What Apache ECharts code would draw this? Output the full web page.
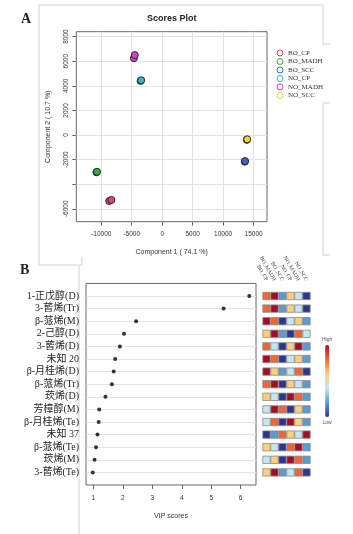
<!DOCTYPE html>
<html>
<head>
<meta charset="utf-8">
<title>Scores Plot / VIP scores</title>
<script src="https://cdn.jsdelivr.net/npm/echarts@6/dist/echarts.min.js"></script>
<style>
html, body { margin: 0; padding: 0; background: #fff; }
#main { width: 353px; height: 534px; }
</style>
</head>
<body>
<div id="main"></div>
<script>
// ---- panel A : PCA scores ----
var groups = ['BO_CP', 'BO_MADH', 'BO_SCC', 'NO_CP', 'NO_MADH', 'NO_SCC'];
var groupColors = ['#e8426e', '#3daa48', '#3f62c8', '#35b6c6', '#d43fd6', '#f0d628'];
var BO_CP = [[-8700, -5370], [-8350, -5280]];
var BO_MADH = [[-10800, -3030], [-10700, -2990]];
var BO_SCC = [[13550, -2170], [13600, -2120]];
var NO_CP = [[-3550, 4400], [-3450, 4450]];
var NO_MADH = [[-4650, 6250], [-4500, 6500]];
var NO_SCC = [[13880, -400], [13950, -350]];
var scores = [BO_CP, BO_MADH, BO_SCC, NO_CP, NO_MADH, NO_SCC];
var scoreXTicks = [-10000, -5000, 0, 5000, 10000, 15000];
var scoreYTicks = [-6000, -4000, -2000, 0, 2000, 4000, 6000, 8000];

// ---- panel B : VIP scores + heat ----
var compounds = ['1-正戊醇(D)', '3-蒈烯(Tr)', 'β-蒎烯(M)', '2-己醇(D)', '3-蒈烯(D)', '未知 20',
    'β-月桂烯(D)', 'β-蒎烯(Tr)', '莰烯(D)', '芳樟醇(M)', 'β-月桂烯(Te)', '未知 37',
    'β-蒎烯(Te)', '莰烯(M)', '3-蒈烯(Te)'];
var vip = [6.29, 5.42, 2.45, 2.04, 1.9, 1.74, 1.69, 1.63, 1.41, 1.2, 1.18, 1.14, 1.09, 1.04, 0.98];
var vipTicks = [1, 2, 3, 4, 5, 6];
// relative level per group (1 = low ... 6 = high), columns follow groups
var heatRows = [
    [5, 6, 2, 4, 3, 1],
    [5, 6, 2, 4, 3, 1],
    [6, 5, 1, 3, 4, 2],
    [4, 6, 2, 1, 5, 3],
    [5, 3, 1, 4, 6, 2],
    [6, 5, 1, 3, 4, 2],
    [6, 4, 2, 3, 5, 1],
    [5, 6, 1, 4, 3, 2],
    [4, 3, 1, 6, 5, 2],
    [3, 6, 5, 1, 4, 2],
    [3, 5, 1, 6, 4, 2],
    [1, 2, 5, 4, 3, 6],
    [4, 3, 1, 5, 6, 2],
    [3, 4, 1, 6, 5, 2],
    [4, 6, 2, 3, 5, 1]
];
var heatColors = ['#2e3591', '#5a9bd0', '#c5e5ef', '#fdcf7c', '#ef6534', '#a50d27'];

var sans = "'Liberation Sans', Arial, sans-serif";
var serif = "'Liberation Serif', 'Noto Sans CJK SC', serif";

var rowIdx = compounds.map(function (c, i) { return i + 1; });
var colIdx = groups.map(function (g, i) { return i + 1; });

var series = groups.map(function (g, i) {
    return {
        name: g,
        type: 'scatter',
        xAxisIndex: 0,
        yAxisIndex: 0,
        data: scores[i],
        symbolSize: 7,
        itemStyle: { color: groupColors[i], borderColor: '#2a2a2a', borderWidth: 1, opacity: 1 }
    };
});

series.push({
    name: 'VIP',
    type: 'scatter',
    xAxisIndex: 1,
    yAxisIndex: 1,
    symbolSize: 4,
    itemStyle: { color: '#333', opacity: 1 },
    data: vip.map(function (v, i) { return [v, i + 1]; })
});

var heatData = [];
heatRows.forEach(function (row, r) {
    row.forEach(function (v, c) {
        heatData.push([c + 1, r + 1, v]);
    });
});

series.push({
    name: 'heat',
    type: 'scatter',
    xAxisIndex: 2,
    yAxisIndex: 2,
    symbol: 'rect',
    symbolSize: 7.4,
    itemStyle: { borderColor: '#8a8a8a', borderWidth: 0.8, opacity: 1 },
    data: heatData
});

var frameStyle = { stroke: '#d0d0d0', fill: null, lineWidth: 1 };

var option = {
    backgroundColor: '#fff',
    animation: false,
    title: [
        { text: 'Scores Plot', left: 147, top: 14, padding: 0,
          textStyle: { fontSize: 9, fontWeight: 'bold', fontFamily: sans, color: '#222' } },
        { text: 'A', left: 21, top: 12, padding: 0,
          textStyle: { fontSize: 14, fontWeight: 'bold', fontFamily: serif, color: '#222' } },
        { text: 'B', left: 20, top: 263, padding: 0,
          textStyle: { fontSize: 14, fontWeight: 'bold', fontFamily: serif, color: '#222' } }
    ],
    legend: {
        orient: 'vertical',
        left: 276.5,
        top: 49.5,
        itemWidth: 6,
        itemHeight: 6,
        itemGap: 1.5,
        padding: 0,
        icon: 'circle',
        selectedMode: false,
        data: groups.map(function (g, i) {
            return { name: g, itemStyle: { color: 'transparent', borderColor: groupColors[i], borderWidth: 1 } };
        }),
        textStyle: { fontSize: 7, lineHeight: 7, color: '#333', fontFamily: serif }
    },
    visualMap: {
        type: 'continuous',
        seriesIndex: 7,
        dimension: 2,
        min: 1,
        max: 6,
        left: 322,
        top: 337,
        itemWidth: 4,
        itemHeight: 72,
        padding: 0,
        text: ['High', 'Low'],
        textGap: 3,
        calculable: false,
        inRange: { color: heatColors },
        textStyle: { fontSize: 5, color: '#555', fontFamily: sans }
    },
    grid: [
        { left: 76.3, top: 31.7, width: 190.7, height: 190, show: true, borderColor: '#666', borderWidth: 1 },
        { left: 86, top: 283.4, width: 170, height: 201.6, show: true, borderColor: '#666', borderWidth: 1 },
        { left: 258.5, top: 283.4, width: 56, height: 201.6, show: false }
    ],
    xAxis: [
        {
            gridIndex: 0, type: 'value', min: -14100, max: 17200,
            axisLine: { show: false, onZero: false },
            axisTick: { show: true, length: 4, customValues: scoreXTicks, lineStyle: { color: '#666' } },
            axisLabel: {
                customValues: scoreXTicks, fontSize: 6.5, color: '#333', margin: 9, fontFamily: sans,
                formatter: function (v) { return String(v); }
            },
            splitLine: { show: true, lineStyle: { color: '#e2e2e2' } },
            name: 'Component 1 ( 74.1 %)', nameLocation: 'middle', nameGap: 27,
            nameTextStyle: { fontSize: 7, color: '#333', fontFamily: sans }
        },
        {
            gridIndex: 1, type: 'value', min: 0.75, max: 6.52,
            axisLine: { show: false, onZero: false },
            axisTick: { show: true, length: 4, customValues: vipTicks, lineStyle: { color: '#666' } },
            axisLabel: { customValues: vipTicks, fontSize: 6.5, color: '#333', margin: 10, fontFamily: sans },
            splitLine: { show: false },
            name: 'VIP scores', nameLocation: 'middle', nameGap: 28,
            nameTextStyle: { fontSize: 7, color: '#333', fontFamily: sans }
        },
        {
            gridIndex: 2, type: 'value', min: 0, max: 7, position: 'top',
            axisLine: { show: false, onZero: false },
            axisTick: { show: false, customValues: colIdx },
            axisLabel: {
                customValues: colIdx, rotate: 60, margin: 3, fontSize: 5.5, color: '#333', fontFamily: serif,
                formatter: function (v) { return groups[v - 1] || ''; }
            },
            splitLine: { show: false }
        }
    ],
    yAxis: [
        {
            gridIndex: 0, type: 'value', min: -7050, max: 8400,
            axisLine: { show: false, onZero: false },
            axisTick: { show: true, length: 4, customValues: scoreYTicks, lineStyle: { color: '#666' } },
            axisLabel: {
                customValues: scoreYTicks, rotate: 90, fontSize: 6.5, color: '#333', margin: 7, fontFamily: sans,
                formatter: function (v) { return v === -4000 ? '' : String(v); }
            },
            splitLine: { show: true, lineStyle: { color: '#e2e2e2' } },
            name: 'Component 2 ( 10.7 %)', nameLocation: 'middle', nameGap: 25,
            nameTextStyle: { fontSize: 7, color: '#333', fontFamily: sans }
        },
        {
            gridIndex: 1, type: 'value', min: 0, max: 16, inverse: true,
            axisLine: { show: false, onZero: false },
            axisTick: { show: false, customValues: rowIdx },
            axisLabel: {
                customValues: rowIdx, fontSize: 10, color: '#222', margin: 7, fontFamily: serif,
                formatter: function (v) { return compounds[v - 1] || ''; }
            },
            splitLine: { show: true, lineStyle: { color: '#e4e4e4' } }
        },
        {
            gridIndex: 2, type: 'value', min: 0, max: 16, inverse: true, show: false
        }
    ],
    graphic: [
        { type: 'polyline', silent: true, shape: { points: [[330, 44], [323, 44], [323, 5], [39, 5], [39, 265], [82, 265], [82, 257]] }, style: frameStyle },
        { type: 'polyline', silent: true, shape: { points: [[330, 103], [323, 103], [323, 255], [330, 255]] }, style: frameStyle },
        { type: 'line', silent: true, shape: { x1: 79, y1: 266, x2: 79, y2: 534 }, style: frameStyle }
    ],
    series: series
};

var chart = echarts.init(document.getElementById('main'));
chart.setOption(option);
</script>
</body>
</html>
